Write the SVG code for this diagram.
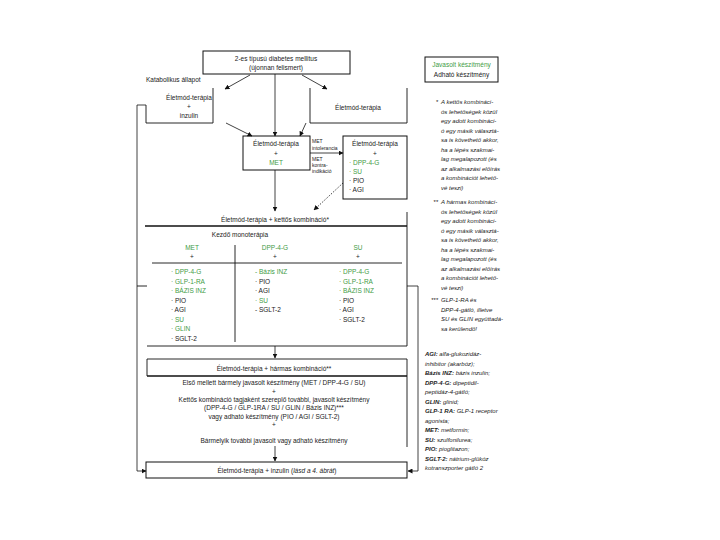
<svg xmlns="http://www.w3.org/2000/svg" width="720" height="540" viewBox="0 0 720 540">
<defs>
<marker id="ah" viewBox="0 0 10 10" refX="9" refY="5" markerWidth="5" markerHeight="5" orient="auto" markerUnits="userSpaceOnUse">
<path d="M0,0 L10,5 L0,10 z" fill="#111"/>
</marker>
<style>
text{font-family:"Liberation Sans",Arial,sans-serif;font-size:6.5px;fill:#222}
.c{text-anchor:middle}
.g{fill:#3f9c46}
.s{font-size:5px}
.f{font-size:6px;font-style:italic}
.b{font-weight:bold}
.box{fill:none;stroke:#111;stroke-width:1}
.thick{stroke:#111;stroke-width:1.6;fill:none}
.ln{stroke:#111;stroke-width:0.9;fill:none}
.ar{stroke:#111;stroke-width:0.8;fill:none;marker-end:url(#ah)}
.dot{stroke:#111;stroke-width:0.8;fill:none;stroke-dasharray:1.5 1.5;marker-end:url(#ah)}
</style>
</defs>
<rect width="720" height="540" fill="#fff"/>

<g id="connectors">
<line class="ar" x1="250" y1="75" x2="225" y2="89"/>
<line class="ar" x1="275" y1="74" x2="275" y2="136"/>
<line class="ar" x1="302" y1="75" x2="327" y2="89"/>
<line class="ar" x1="226" y1="123" x2="252" y2="136"/>
<line class="ar" x1="306" y1="123" x2="300" y2="136"/>
<line class="ar" x1="310" y1="153" x2="343" y2="153"/>
<line class="dot" x1="343" y1="183" x2="314" y2="210"/>
<line class="ar" x1="275" y1="170" x2="275" y2="211"/>
<line class="ar" x1="275" y1="346" x2="275" y2="358"/>
<line class="ar" x1="275" y1="446" x2="275" y2="461"/>
<polyline class="ar" points="146,105 137,105 137,471 146,471"/>
<line class="ln" x1="137" y1="286" x2="147" y2="286"/>
<polyline class="ar" points="407,286 418,286 418,471 408,471"/>
</g>

<g id="n-top">
<rect class="box" x="203" y="51" width="147" height="23"/>
<text class="c" x="276" y="61">2-es típusú diabetes mellitus</text>
<text class="c" x="276" y="70">(újonnan felismert)</text>
</g>

<g id="n-katabolikus">
<text x="146" y="82">Katabolikus állapot</text>
</g>

<g id="n-left">
<path class="ln" d="M146,105 V123 H213 V88"/>
<text class="c" x="189" y="100">Életmód-terápia</text>
<text class="c" x="189" y="109">+</text>
<text class="c" x="189" y="118">inzulin</text>
</g>

<g id="n-right">
<path class="ln" d="M310,88 V123 H407 V88"/>
<text class="c" x="358" y="110">Életmód-terápia</text>
</g>

<g id="n-met">
<rect class="box" x="243" y="136" width="67" height="34"/>
<text class="c" x="276" y="146">Életmód-terápia</text>
<text class="c" x="276" y="156">+</text>
<text class="c g" x="276" y="165">MET</text>
</g>

<g id="labels-met">
<text class="s" x="312" y="143">MET</text>
<text class="s" x="312" y="150">intolerancia</text>
<text class="s" x="312" y="161">MET</text>
<text class="s" x="312" y="167">kontra-</text>
<text class="s" x="312" y="173">indikáció</text>
</g>

<g id="n-alt">
<rect class="box" x="343" y="136" width="64" height="63"/>
<text class="c" x="375" y="146">Életmód-terápia</text>
<text class="c" x="375" y="156">+</text>
<text class="g" x="349" y="165">· DPP-4-G</text>
<text class="g" x="349" y="174">· SU</text>
<text x="349" y="183">· PIO</text>
<text x="349" y="192">· AGI</text>
</g>

<g id="n-kettos">
<path class="ln" d="M407,212 V346 H147"/>
<line class="thick" x1="145" y1="226" x2="407" y2="226"/>
<text class="c" x="275" y="222">Életmód-terápia + kettős kombináció*</text>
<text class="c" x="240" y="237">Kezdő monoterápia</text>
<text class="c g" x="192" y="250">MET</text>
<text class="c" x="192" y="259">+</text>
<text class="c g" x="275" y="250">DPP-4-G</text>
<text class="c" x="275" y="259">+</text>
<text class="c g" x="358" y="250">SU</text>
<text class="c" x="358" y="259">+</text>
<line class="ln" x1="152" y1="263" x2="402" y2="263"/>
<line class="ln" x1="235" y1="245" x2="235" y2="342"/>
<text class="g" x="171" y="274">· DPP-4-G</text>
<text class="g" x="171" y="283.5">· GLP-1-RA</text>
<text class="g" x="171" y="293">· BÁZIS INZ</text>
<text x="171" y="302.5">· PIO</text>
<text x="171" y="312">· AGI</text>
<text class="g" x="171" y="321.5">· SU</text>
<text class="g" x="171" y="331">· GLIN</text>
<text x="171" y="340.5">· SGLT-2</text>
<text class="g" x="255" y="274">- Bázis INZ</text>
<text x="255" y="283.5">· PIO</text>
<text x="255" y="293">· AGI</text>
<text class="g" x="255" y="302.5">· SU</text>
<text x="255" y="312">- SGLT-2</text>
<text class="g" x="339" y="274">· DPP-4-G</text>
<text class="g" x="339" y="283.5">· GLP-1-RA</text>
<text class="g" x="339" y="293">· BÁZIS INZ</text>
<text x="339" y="302.5">· PIO</text>
<text x="339" y="312">· AGI</text>
<text x="339" y="321.5">· SGLT-2</text>
</g>

<g id="n-harmas">
<path class="ln" d="M147,376 V359 H407 V447"/>
<line class="thick" x1="147" y1="376" x2="407" y2="376"/>
<text class="c" x="274" y="371">Életmód-terápia + hármas kombináció**</text>
<text class="c" x="274" y="385">Első mellett bármely javasolt készítmény (MET / DPP-4-G / SU)</text>
<text class="c" x="274" y="393.5">+</text>
<text class="c" x="274" y="402">Kettős kombináció tagjaként szereplő további, javasolt készítmény</text>
<text class="c" x="274" y="410">(DPP-4-G / GLP-1RA / SU / GLIN / Bázis INZ)***</text>
<text class="c" x="274" y="418.5">vagy adható készítmény (PIO / AGI / SGLT-2)</text>
<text class="c" x="274" y="427">+</text>
<text class="c" x="274" y="443">Bármelyik további javasolt vagy adható készítmény</text>
</g>

<g id="n-inzulin">
<rect class="box" x="146" y="462" width="261" height="16"/>
<text class="c" x="277" y="473">Életmód-terápia + inzulin (<tspan font-style="italic">lásd a 4. ábrát</tspan>)</text>
</g>

<g id="legend">
<rect class="box" x="425" y="57" width="73" height="25"/>
<text class="c g" x="461.5" y="67">Javasolt készítmény</text>
<text class="c" x="461.5" y="77">Adható készítmény</text>
</g>

<g id="footnotes">
<text class="f" x="438" y="104" text-anchor="end">*</text>
<text class="f" x="441" y="104">A kettős kombináci-</text>
<text class="f" x="441" y="113.5">ós lehetőségek közül</text>
<text class="f" x="441" y="123">egy adott kombináci-</text>
<text class="f" x="441" y="132.5">ó egy másik választá-</text>
<text class="f" x="441" y="142">sa is követhető akkor,</text>
<text class="f" x="441" y="151.5">ha a lépés szakmai-</text>
<text class="f" x="441" y="161">lag megalapozott (és</text>
<text class="f" x="441" y="170.5">az alkalmazási előírás</text>
<text class="f" x="441" y="180">a kombinációt lehető-</text>
<text class="f" x="441" y="189.5">vé teszi)</text>
<text class="f" x="438" y="204" text-anchor="end">**</text>
<text class="f" x="441" y="204">A hármas kombináci-</text>
<text class="f" x="441" y="213.5">ós lehetőségek közül</text>
<text class="f" x="441" y="223">egy adott kombináci-</text>
<text class="f" x="441" y="232.5">ó egy másik választá-</text>
<text class="f" x="441" y="242">sa is követhető akkor,</text>
<text class="f" x="441" y="251.5">ha a lépés szakmai-</text>
<text class="f" x="441" y="261">lag megalapozott (és</text>
<text class="f" x="441" y="270.5">az alkalmazási előírás</text>
<text class="f" x="441" y="280">a kombinációt lehető-</text>
<text class="f" x="441" y="289.5">vé teszi)</text>
<text class="f" x="438" y="302" text-anchor="end">***</text>
<text class="f" x="441" y="302">GLP-1-RA és</text>
<text class="f" x="441" y="311.5">DPP-4-gátló, illetve</text>
<text class="f" x="441" y="321">SU és GLIN együttadá-</text>
<text class="f" x="441" y="330.5">sa kerülendő!</text>
</g>

<g id="abbreviations">
<text class="f" x="425" y="356"><tspan class="b">AGI:</tspan> alfa-glukozidáz-</text>
<text class="f" x="425" y="365.5">inhibitor (akarbóz);</text>
<text class="f" x="425" y="375"><tspan class="b">Bázis INZ:</tspan> bázis inzulin;</text>
<text class="f" x="425" y="384.5"><tspan class="b">DPP-4-G:</tspan> dipeptidil-</text>
<text class="f" x="425" y="394">peptidáz-4-gátló;</text>
<text class="f" x="425" y="403.5"><tspan class="b">GLIN:</tspan> glinid;</text>
<text class="f" x="425" y="413"><tspan class="b">GLP-1 RA:</tspan> GLP-1 receptor</text>
<text class="f" x="425" y="422.5">agonista;</text>
<text class="f" x="425" y="432"><tspan class="b">MET:</tspan> metformin;</text>
<text class="f" x="425" y="441.5"><tspan class="b">SU:</tspan> szulfonilurea;</text>
<text class="f" x="425" y="451"><tspan class="b">PIO:</tspan> pioglitazon;</text>
<text class="f" x="425" y="460.5"><tspan class="b">SGLT-2:</tspan> nátrium-glükóz</text>
<text class="f" x="425" y="470">kotranszporter gátló 2</text>
</g>
</svg>
